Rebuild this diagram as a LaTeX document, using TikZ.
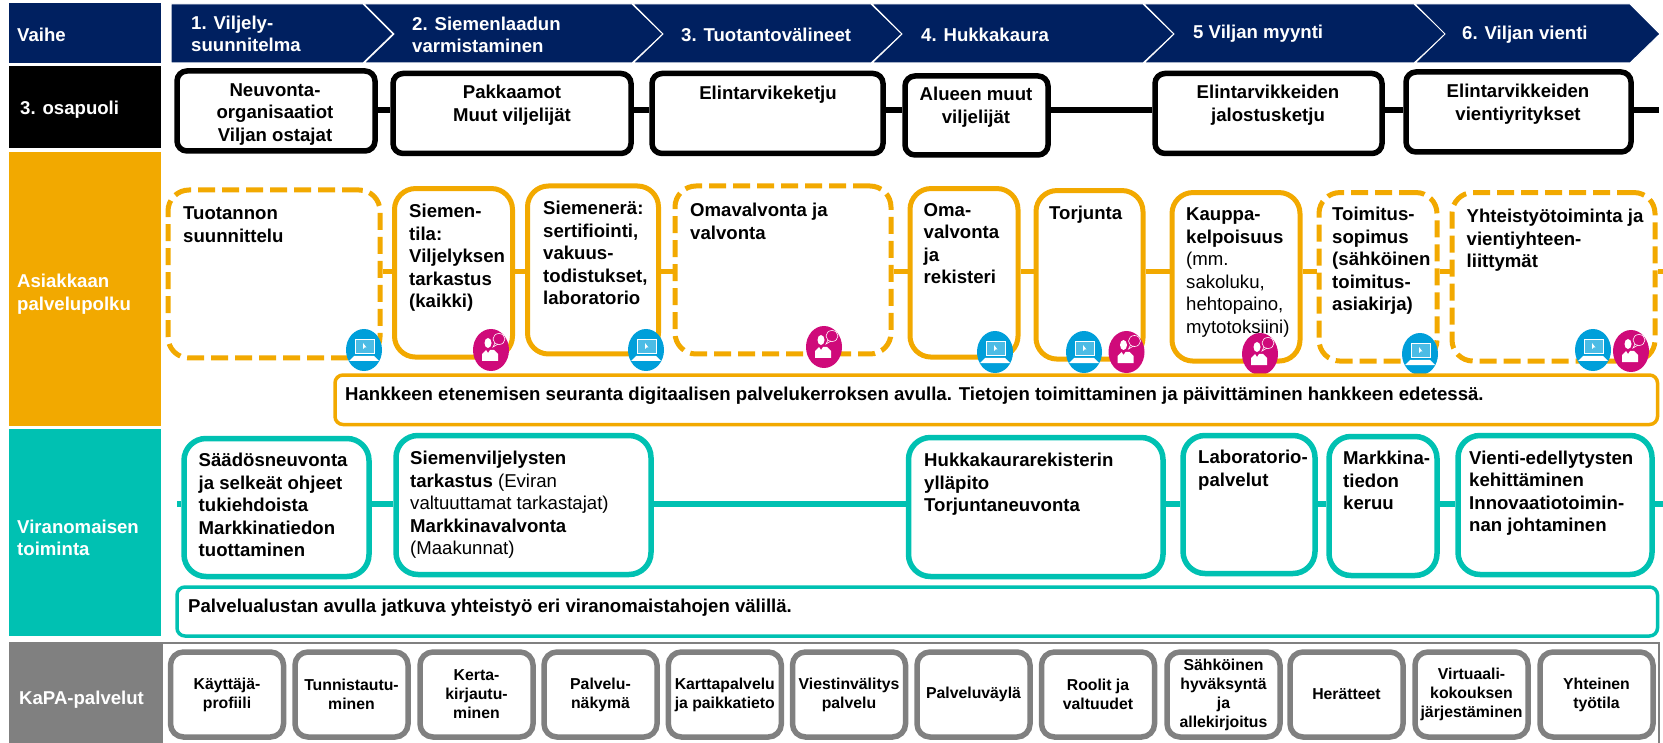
\documentclass[tikz,border=0pt]{standalone}
\usepackage{fontspec}
\setmainfont{Liberation Sans}
\usetikzlibrary{backgrounds}
\definecolor{navyband}{HTML}{002060}
\definecolor{orangeband}{HTML}{F2A900}
\definecolor{tealband}{HTML}{00C1B2}
\definecolor{grayband}{HTML}{808080}
\definecolor{iconblue}{HTML}{009FDA}
\definecolor{iconpink}{HTML}{CF0A7A}
\tikzset{
  bandlabel/.style={anchor=west,inner sep=0pt,text=white,align=left,
    font=\fontsize{18.6}{22.5}\selectfont\bfseries},
  stagelabel/.style={bandlabel},
  boxlabel/.style={anchor=west,inner sep=0pt,text=black,align=left,yshift=-2.2pt,
    font=\fontsize{18.6}{22.5}\selectfont\bfseries,
    execute at begin node=\strut,execute at end node=\strut},
  partylabel/.style={boxlabel,anchor=center,align=center},
  bandrect/.style={rectangle,minimum width=152pt,inner sep=0pt},
  chevron/.style={fill=navyband,draw=white,line width=1pt},
  partybox/.style={rectangle,draw=black,fill=white,line width=5.5pt,rounded corners=10pt,inner sep=0pt},
  orangebox/.style={rectangle,draw=orangeband,fill=white,line width=5pt,rounded corners=21pt,inner sep=0pt},
  orangedash/.style={orangebox,dash pattern=on 17pt off 7pt},
  tealbox/.style={rectangle,draw=tealband,fill=white,line width=5.5pt,rounded corners=22pt,inner sep=0pt},
  widebox/.style={rectangle,fill=white,line width=3.5pt,rounded corners=8pt,inner sep=0pt},
  kapabox/.style={rectangle,draw=grayband,fill=white,line width=5.5pt,rounded corners=13pt,
    inner sep=0pt,align=center,minimum width=113pt,minimum height=85pt,
    font=\fontsize{15.8}{19}\selectfont\bfseries},
  laptop/.pic={
    \fill[iconblue] (0,0) ellipse (18pt and 21pt);
    \draw[white,line width=0.7pt,fill=iconblue!70!white] (-9,-11) rectangle (10,3);
    \fill[white] (-1,-7) -- (-1,-1) -- (0.5,-2.5) -- (2.5,-2.5) -- cycle;
    \fill[white] (-10,6) -- (10,6) -- (15,11) -- (-15,11) -- cycle;
  },
  adviser/.pic={
    \fill[iconpink] (0,0) ellipse (18pt and 21pt);
    \fill[white] (-3,-7) ellipse (3.5pt and 5pt);
    \fill[white] (-9,11) -- (-9,4) -- (-5,0) -- (-3,3) -- (-1,0) -- (3,0) -- (7,4) -- (7,11) -- cycle;
    \draw[white,line width=0.6pt] (8,-11) ellipse (6pt and 5.5pt);
    \draw[white,line width=0.6pt] (4,-7) -- (2,-3) -- (7,-6);
  },
}
\begin{document}
\begin{tikzpicture}[x=1pt,y=-1pt]
  \useasboundingbox (0,0) rectangle (1663,743);
  % bands on the left
  \node[bandrect,fill=navyband,minimum height=60pt] (vaiheband) at (85,33) {};
  \node[bandrect,fill=black,minimum height=82pt] (osapuoliband) at (85,107) {};
  \node[bandrect,fill=orangeband,minimum height=274pt] (polkuband) at (85,289) {};
  \node[bandrect,fill=tealband,minimum height=207pt] (viranomainenband) at (85,532.5) {};
  \node[bandrect,fill=grayband,minimum width=154pt,minimum height=101pt] (kapaband) at (86,692.5) {};
  \node[bandlabel] (vaihe) at (17,35) {Vaihe};
  \node[bandlabel] (osapuoli) at (20,110) {3. osapuoli};
  \node[bandlabel] (polku) at (17,294) {Asiakkaan\\palvelupolku};
  \node[bandlabel] (viranomainen) at (17,538) {Viranomaisen\\toiminta};
  \node[bandlabel] (kapa) at (19,700) {KaPA-palvelut};
  % stages
  \draw[chevron] (171,4) -- (363,4) -- (393,34) -- (363,63) -- (171,63) -- cycle;
  \foreach \a/\b/\c in {364/632/663, 633/871/902, 872/1143/1174, 1144/1414/1446, 1415/1630/1660}
  { \draw[chevron] (\a,4) -- (\b,4) -- (\c,34) -- (\b,63) -- (\a,63) -- (\a+30,34) -- cycle; }
  \node[stagelabel] (stage1) at (191,34) {1. Viljely-\\suunnitelma};
  \node[stagelabel] (stage2) at (412,35) {2. Siemenlaadun\\varmistaminen};
  \node[stagelabel] (stage3) at (681,35) {3. Tuotantovälineet};
  \node[stagelabel] (stage4) at (921,35) {4. Hukkakaura};
  \node[stagelabel] (stage5) at (1193,34) {5 Viljan myynti};
  \node[stagelabel] (stage6) at (1462,35) {6. Viljan vienti};
  % 3rd party
  \coordinate (blackrail) at (0,110);
  \coordinate (blackend) at (1659,110);
  \foreach \n/\x/\y/\w/\h in {neuvonta/276/111/198/80, pakkaamot/512/113.5/238/80, ketju/767.5/113.5/231/80,
    alue/976.5/115.5/143/79, jalostus/1268.5/113.5/227/80, vientiyritys/1518.5/112/225/80}
  { \node[partybox,minimum width=\w pt,minimum height=\h pt] (\n) at (\x,\y) {}; }
  \foreach \a/\b in {neuvonta/pakkaamot, pakkaamot/ketju, ketju/alue, alue/jalostus, jalostus/vientiyritys}
  { \draw[black,line width=5.5pt] (\a.east |- blackrail) -- (\b.west |- blackrail); }
  \draw[black,line width=5.5pt] (vientiyritys.east |- blackrail) -- (blackend);
  \node[partylabel] (neuvontatext) at (275,113.5) {Neuvonta-\\organisaatiot\\Viljan ostajat};
  \node[partylabel] (pakkaamottext) at (512,104.5) {Pakkaamot\\Muut viljelijät};
  \node[partylabel] (ketjutext) at (768,93) {Elintarvikeketju};
  \node[partylabel] (aluetext) at (976,106.5) {Alueen muut\\viljelijät};
  \node[partylabel] (jalostustext) at (1268,104.5) {Elintarvikkeiden\\jalostusketju};
  \node[partylabel] (vientitext) at (1518,103.5) {Elintarvikkeiden\\vientiyritykset};
  % customer path
  \coordinate (orangerail) at (0,272);
  \coordinate (orangeend) at (1663,272);
  \foreach \n/\s/\x/\y/\w/\h in {suunnittelu/orangedash/274/274/212/168, tila/orangebox/453.5/272.8/118/168.5,
    siemenera/orangebox/593/270/131/168, omavalvonta/orangedash/783/270/216/168,
    rekisteri/orangebox/964/272.8/108/168.5, torjunta/orangebox/1089.5/274.8/107/168.5,
    kelpoisuus/orangebox/1236/276.8/128/168.5, sopimus/orangedash/1378/276.8/118/168.5,
    yhteistyo/orangedash/1553.5/276.8/203/168.5}
  { \node[\s,minimum width=\w pt,minimum height=\h pt] (\n) at (\x,\y) {}; }
  \foreach \a/\b in {suunnittelu/tila, tila/siemenera, siemenera/omavalvonta, omavalvonta/rekisteri,
    rekisteri/torjunta, torjunta/kelpoisuus, kelpoisuus/sopimus, sopimus/yhteistyo}
  { \draw[orangeband,line width=5pt] (\a.east |- orangerail) -- (\b.west |- orangerail); }
  \draw[orangeband,line width=5pt] (yhteistyo.east |- orangerail) -- (orangeend);
  \node[boxlabel] (suunnittelutext) at (183,226) {Tuotannon\\suunnittelu};
  \node[boxlabel] (tilatext) at (409,257) {Siemen-\\tila:\\Viljelyksen\\tarkastus\\(kaikki)};
  \node[boxlabel] (siemeneratext) at (543,254) {Siemenerä:\\sertifiointi,\\vakuus-\\todistukset,\\laboratorio};
  \node[boxlabel] (omavalvontatext) at (690,222.5) {Omavalvonta ja\\valvonta};
  \node[boxlabel] (rekisteritext) at (923.5,244.5) {Oma-\\valvonta\\ja\\rekisteri};
  \node[boxlabel] (torjuntatext) at (1049,213) {Torjunta};
  \node[boxlabel] (kelpoisuustext) at (1186,272) {Kauppa-\\kelpoisuus\\{\mdseries (mm.}\\{\mdseries sakoluku,}\\{\mdseries hehtopaino,}\\{\mdseries mytotoksiini)}};
  \node[boxlabel] (sopimustext) at (1332,260) {Toimitus-\\sopimus\\(sähköinen\\toimitus-\\asiakirja)};
  \node[boxlabel] (yhteistyotext) at (1466.5,239.5) {Yhteistyötoiminta ja\\vientiyhteen-\\liittymät};
  \foreach \x/\y in {364/350, 646/350, 995/352, 1084/352, 1420/354, 1593/350}
  { \pic at (\x,\y) {laptop}; }
  \foreach \x/\y in {491/350, 824/347, 1126.5/352, 1260/354, 1631/351}
  { \pic at (\x,\y) {adviser}; }
  \node[widebox,draw=orangeband,minimum width=1322.5pt,minimum height=49.5pt] (seuranta) at (996.25,399.75) {};
  \node[boxlabel] (seurantatext) at (345,394) {Hankkeen etenemisen seuranta digitaalisen palvelukerroksen avulla. Tietojen toimittaminen ja päivittäminen hankkeen edetessä.};
  % authorities
  \coordinate (tealstart) at (177,504);
  \coordinate (tealend) at (1663,504);
  \foreach \n/\x/\y/\w/\h in {neuvonta2/276.5/507.5/185/138, tarkastus/523.5/505/255/139, hukkakaura/1035.75/507/254.5/139,
    laboratorio/1249/504.5/132/138, markkinatieto/1383/506/108/139, vienti/1555/505/194/139}
  { \node[tealbox,minimum width=\w pt,minimum height=\h pt] (\n) at (\x,\y) {}; }
  \draw[tealband,line width=5.5pt] (tealstart) -- (neuvonta2.west |- tealstart);
  \foreach \a/\b in {neuvonta2/tarkastus, tarkastus/hukkakaura, hukkakaura/laboratorio, laboratorio/markkinatieto,
    markkinatieto/vienti}
  { \draw[tealband,line width=5.5pt] (\a.east |- tealstart) -- (\b.west |- tealstart); }
  \draw[tealband,line width=5.5pt] (vienti.east |- tealstart) -- (tealend);
  \node[boxlabel] (neuvonta2text) at (198.5,506) {Säädösneuvonta\\ja selkeät ohjeet\\tukiehdoista\\Markkinatiedon\\tuottaminen};
  \node[boxlabel] (tarkastustext) at (410,504) {Siemenviljelysten\\tarkastus {\mdseries (Eviran}\\{\mdseries valtuuttamat tarkastajat)}\\Markkinavalvonta\\{\mdseries (Maakunnat)}};
  \node[boxlabel] (hukkakauratext) at (924,483.5) {Hukkakaurarekisterin\\ylläpito\\Torjuntaneuvonta};
  \node[boxlabel] (laboratoriotext) at (1198,469.5) {Laboratorio-\\palvelut};
  \node[boxlabel] (markkinatietotext) at (1343,481.5) {Markkina-\\tiedon\\keruu};
  \node[boxlabel] (vientitext2) at (1469,492.5) {Vienti-edellytysten\\kehittäminen\\Innovaatiotoimin-\\nan johtaminen};
  \node[widebox,draw=tealband,minimum width=1480.5pt,minimum height=49pt] (yhteistyo2) at (917.25,611.5) {};
  \node[boxlabel] (yhteistyo2text) at (188,606) {Palvelualustan avulla jatkuva yhteistyö eri viranomaistahojen välillä.};
  % KaPA services
  \coordinate (kapacorner) at (1659,643);
  \coordinate (kapaend) at (1659,743);
  \draw[grayband,line width=2.5pt] (kapaband.north east |- kapacorner) -- (kapacorner) -- (kapaend);
  \foreach \n/\x/\t in {1/227/{Käyttäjä-\\profiili}, 2/351.5/{Tunnistautu-\\minen}, 3/476.5/{Kerta-\\kirjautu-\\minen},
    4/600.5/{Palvelu-\\näkymä}, 5/724.8/{Karttapalvelu\\ja paikkatieto}, 6/849/{Viestinvälitys\\palvelu},
    7/973.5/{Palveluväylä}, 8/1098/{Roolit ja\\valtuudet}, 9/1223.5/{Sähköinen\\hyväksyntä\\ja\\allekirjoitus},
    10/1346.5/{Herätteet}, 11/1471.5/{Virtuaali-\\kokouksen\\järjestäminen}, 12/1596.5/{Yhteinen\\työtila}}
  { \node[kapabox] (kapa\n) at (\x,694.5) {\t}; }
\end{tikzpicture}
\end{document}
